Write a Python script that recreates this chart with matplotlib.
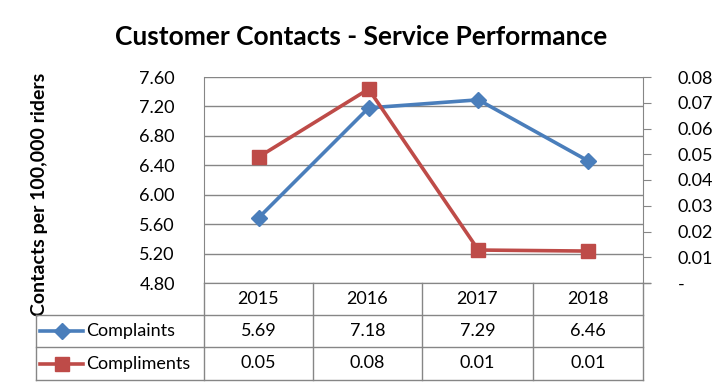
import matplotlib.pyplot as plt
from matplotlib.lines import Line2D

plt.rcParams['font.family'] = ['Lato', 'DejaVu Sans']

years = ['2015', '2016', '2017', '2018']
complaints = [5.69, 7.18, 7.29, 6.46]
compliments = [0.049, 0.0753, 0.0128, 0.0124]
series_names = ['Complaints', 'Compliments']

blue = '#4A7EBB'
red = '#BE4B48'
grid_c = '#868686'

W, H = 723, 391
fig = plt.figure(figsize=(W / 100, H / 100), dpi=100)

# plot area in pixels
px_l, px_r, px_t, px_b = 204, 643, 77, 283
ax = fig.add_axes([px_l / W, 1 - px_b / H, (px_r - px_l) / W, (px_b - px_t) / H])
ax2 = ax.twinx()

x = list(range(len(years)))
ax.plot(x, complaints, color=blue, lw=2.6, marker='D', ms=8, zorder=3, clip_on=False)
ax2.plot(x, compliments, color=red, lw=2.6, marker='s', ms=10, zorder=3, clip_on=False)

ax.set_xlim(-0.5, len(years) - 0.5)
ax.set_ylim(4.8, 7.6)
ax.set_yticks([4.8 + 0.4 * i for i in range(8)])
ax.set_yticklabels(['%.2f' % (4.8 + 0.4 * i) for i in range(8)])
ax.yaxis.grid(True, color=grid_c, lw=1)
ax.set_axisbelow(True)
ax.set_xticks([])
ax.tick_params(axis='y', length=0, labelsize=13, pad=21)

ax2.set_ylim(0, 0.08)
ticks2 = [i / 100 for i in range(9)]
ax2.set_yticks(ticks2)
ax2.set_yticklabels(['-'] + ['%.2f' % t for t in ticks2[1:]])
ax2.tick_params(axis='y', direction='out', length=6, color=grid_c, labelsize=13, pad=19)

for a in (ax, ax2):
    for s in a.spines.values():
        s.set_color(grid_c)
    a.spines['top'].set_visible(False)
ax2.spines['left'].set_visible(False)
ax.spines['right'].set_visible(False)

ax.set_ylabel('Contacts per 100,000 riders', fontsize=14, fontweight='bold')
ax.yaxis.set_label_coords(-156 / (px_r - px_l), 0.43)

fig.text(0.5, 1 - 37 / H, 'Customer Contacts - Service Performance',
         ha='center', va='center', fontsize=19, fontweight='bold')

# data table drawn in pixel coordinates
def fx(p):
    return p / W

def fy(p):
    return 1 - p / H

col_edges = [204, 313, 422, 533, 643]
row_edges = [283, 315, 347, 380]
lc = dict(color=grid_c, lw=1, transform=fig.transFigure)

fig.add_artist(Line2D([fx(643), fx(650)], [fy(283), fy(283)], **lc))
for yy in row_edges[1:]:
    fig.add_artist(Line2D([fx(36), fx(643)], [fy(yy), fy(yy)], **lc))
for xx in col_edges:
    fig.add_artist(Line2D([fx(xx), fx(xx)], [fy(283), fy(380)], **lc))
fig.add_artist(Line2D([fx(36), fx(36)], [fy(315), fy(380)], **lc))

rows = [years, ['%.2f' % v for v in complaints], ['%.2f' % v for v in compliments]]
for r, vals in enumerate(rows):
    yc = fy((row_edges[r] + row_edges[r + 1]) / 2)
    for i, v in enumerate(vals):
        fig.text((col_edges[i] + col_edges[i + 1]) / 2 / W, yc, v,
                 ha='center', va='center', fontsize=13)

# legend keys in the table
markers = ['D', 's']
colors = [blue, red]
sizes = [8, 10]
for k in range(2):
    yc = fy((row_edges[k + 1] + row_edges[k + 2]) / 2)
    fig.add_artist(Line2D([fx(40), fx(83)], [yc, yc], color=colors[k], lw=2.6,
                          transform=fig.transFigure))
    fig.add_artist(Line2D([fx(61.5)], [yc], color=colors[k], marker=markers[k],
                          ms=sizes[k], transform=fig.transFigure))
    fig.text(fx(86), yc, series_names[k], ha='left', va='center', fontsize=13)

fig.savefig('out.png', dpi=100)
